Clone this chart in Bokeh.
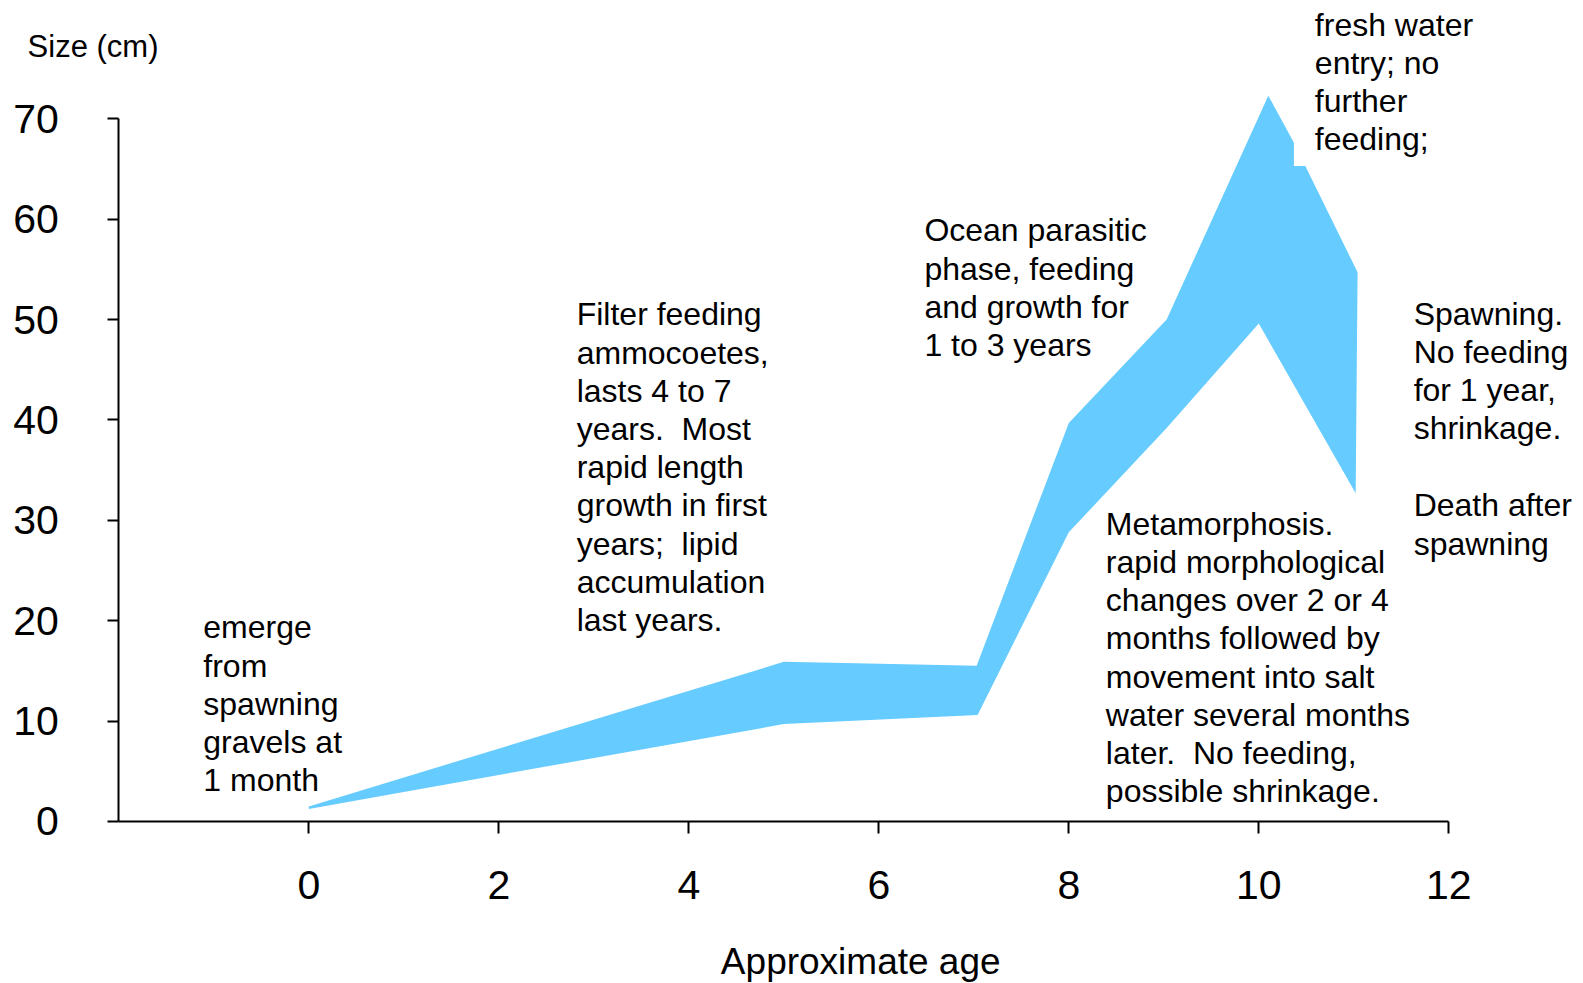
from bokeh.plotting import figure
from bokeh.models import ColumnDataSource, FixedTicker, Range1d
from bokeh.core.properties import value
from bokeh.embed import file_html
from bokeh.resources import INLINE

# ---- data ----
upper_x = [0, 5, 7.03, 8, 9.03, 10.1, 10.37, 10.37, 10.49, 11.04]
upper_y = [1.5, 15.9, 15.5, 39.7, 50.0, 72.3, 67.6, 65.3, 65.3, 54.7]
lower_x = [0, 5, 7.04, 8, 9.03, 10.0, 11.02]
lower_y = [1.25, 9.7, 10.6, 28.8, 39.2, 49.6, 32.7]

x_ticks = [0, 2, 4, 6, 8, 10, 12]
y_ticks = [0, 10, 20, 30, 40, 50, 60, 70]

NB = "\u00a0 "  # keeps the double spaces of the original
note_x = [10.59, 11.63, 11.63, -1.11, 2.82, 6.48, 8.39]
note_y = [79.36, 50.58, 31.49, 19.33, 50.51, 58.87, 29.66]
note_lines = [
    ["fresh water", "entry; no", "further", "feeding;"],
    ["Spawning.", "No feeding", "for 1 year,", "shrinkage."],
    ["Death after", "spawning"],
    ["emerge", "from", "spawning", "gravels at", "1 month"],
    ["Filter feeding", "ammocoetes,", "lasts 4 to 7", "years." + NB + "Most", "rapid length",
     "growth in first", "years;" + NB + "lipid", "accumulation", "last years."],
    ["Ocean parasitic", "phase, feeding", "and growth for", "1 to 3 years"],
    ["Metamorphosis.", "rapid morphological", "changes over 2 or 4", "months followed by",
     "movement into salt", "water several months", "later." + NB + "No feeding,", "possible shrinkage."],
]
line_step = 3.805  # cm per text line

y_title = "Size (cm)"
x_title = "Approximate age"

FONT = "Liberation Sans"

p = figure(width=1583, height=983, x_range=Range1d(-3.245, 13.418), y_range=Range1d(-16.14, 81.78),
           output_backend="svg", toolbar_location=None, min_border=0)
p.outline_line_color = None
p.grid.visible = False
p.background_fill_color = "white"
p.border_fill_color = "white"

# band
px = upper_x + lower_x[::-1]
py = upper_y + lower_y[::-1]
p.patch(px, py, fill_color="#66CCFF", line_color=None)

# axes
for ax in (p.xaxis[0], p.yaxis[0]):
    ax.axis_line_width = 2
    ax.major_tick_line_width = 2
    ax.minor_tick_line_color = None
    ax.major_tick_in = 0
    ax.axis_line_color = "black"
    ax.major_tick_line_color = "black"
    ax.major_label_text_font = FONT
    ax.major_label_text_color = "black"
    ax.major_label_text_font_size = "41px"

p.xaxis.fixed_location = 0
p.xaxis.bounds = (-2, 12)
p.xaxis.ticker = FixedTicker(ticks=x_ticks)
p.xaxis.major_tick_out = 12
p.xaxis.major_label_standoff = 38

p.yaxis.fixed_location = -2
p.yaxis.bounds = (0, 70)
p.yaxis.ticker = FixedTicker(ticks=y_ticks)
p.yaxis.major_tick_out = 11
p.yaxis.major_label_standoff = 49

# annotation text
tx, ty, tt = [], [], []
for x0, y0, lines in zip(note_x, note_y, note_lines):
    for i, s in enumerate(lines):
        tx.append(x0)
        ty.append(y0 - i * line_step)
        tt.append(s)
src = ColumnDataSource(dict(x=tx, y=ty, text=tt))
p.text(x="x", y="y", text="text", source=src, text_font=value(FONT), text_font_size="32px",
       text_color="black", text_align="left", text_baseline="alphabetic")

p.text(x=[-2.96], y=[77.2], text=[y_title], text_font=value(FONT), text_font_size="31px",
       text_color="black", text_align="left", text_baseline="alphabetic")
p.text(x=[5.81], y=[-13.95], text=[x_title], text_font=value(FONT), text_font_size="37px",
       text_color="black", text_align="center", text_baseline="alphabetic")

open("out.html", "w").write(file_html(p, INLINE))
